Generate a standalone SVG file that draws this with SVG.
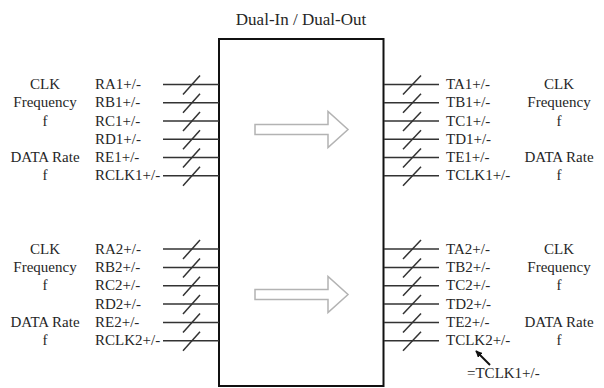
<svg xmlns="http://www.w3.org/2000/svg" width="604" height="388" viewBox="0 0 604 388">
<defs>
<style>
text{font-family:"Liberation Serif","Times New Roman",serif;font-size:15px;fill:#262626}
.mid{text-anchor:middle}
.bus{stroke:#333;stroke-width:1.5;fill:none}
.box{stroke:#111;stroke-width:2;fill:#fff}
.hollow{stroke:#b3b3b3;stroke-width:1.5;fill:#fff}
</style>
<marker id="ah" viewBox="0 0 10 10" refX="9" refY="5" markerWidth="7" markerHeight="7" orient="auto" markerUnits="userSpaceOnUse">
<path d="M0,0 L10,5 L0,10 z" fill="#111"/>
</marker>
<g id="lbus"><line x1="163" y1="0" x2="219" y2="0"/><line x1="183" y1="10" x2="200" y2="-9"/></g>
<g id="rbus"><line x1="384" y1="0" x2="439" y2="0"/><line x1="403" y1="10" x2="421" y2="-9"/></g>
</defs>
<rect width="604" height="388" fill="#fff"/>

<g id="title"><text x="301" y="25" class="mid" style="font-size:17px">Dual-In / Dual-Out</text></g>

<g id="block">
<rect class="box" x="219" y="39" width="164.5" height="347"/>
<polygon class="hollow" points="255,124.5 328,124.5 328,111.5 348,129.5 328,147.5 328,134.5 255,134.5"/>
<polygon class="hollow" points="255,289.5 328,289.5 328,276.5 348,294.5 328,312.5 328,299.5 255,299.5"/>
</g>

<g id="connectors" class="bus">
<use href="#lbus" y="84.5"/><use href="#lbus" y="102.7"/><use href="#lbus" y="121"/><use href="#lbus" y="139.2"/><use href="#lbus" y="157.5"/><use href="#lbus" y="175.7"/>
<use href="#lbus" y="249"/><use href="#lbus" y="267.4"/><use href="#lbus" y="285.7"/><use href="#lbus" y="304"/><use href="#lbus" y="322.4"/><use href="#lbus" y="340.7"/>
<use href="#rbus" y="84.5"/><use href="#rbus" y="102.7"/><use href="#rbus" y="121"/><use href="#rbus" y="139.2"/><use href="#rbus" y="157.5"/><use href="#rbus" y="175.7"/>
<use href="#rbus" y="249"/><use href="#rbus" y="267.4"/><use href="#rbus" y="285.7"/><use href="#rbus" y="304"/><use href="#rbus" y="322.4"/><use href="#rbus" y="340.7"/>
<line x1="490" y1="365" x2="476" y2="351" stroke="#111" stroke-width="2" marker-end="url(#ah)"/>
</g>

<g id="in1">
<text x="95" y="89">RA1+/-</text><text x="95" y="107.2">RB1+/-</text><text x="95" y="125.5">RC1+/-</text><text x="95" y="143.7">RD1+/-</text><text x="95" y="162">RE1+/-</text><text x="95" y="180.2">RCLK1+/-</text>
<text x="45" y="89" class="mid">CLK</text><text x="45" y="107.2" class="mid">Frequency</text><text x="45" y="125.5" class="mid">f</text><text x="45" y="162" class="mid">DATA Rate</text><text x="45" y="180.2" class="mid">f</text>
</g>
<g id="in2">
<text x="95" y="253.5">RA2+/-</text><text x="95" y="271.9">RB2+/-</text><text x="95" y="290.2">RC2+/-</text><text x="95" y="308.5">RD2+/-</text><text x="95" y="326.9">RE2+/-</text><text x="95" y="345.2">RCLK2+/-</text>
<text x="45" y="253.5" class="mid">CLK</text><text x="45" y="271.9" class="mid">Frequency</text><text x="45" y="290.2" class="mid">f</text><text x="45" y="326.9" class="mid">DATA Rate</text><text x="45" y="345.2" class="mid">f</text>
</g>
<g id="out1">
<text x="446" y="89">TA1+/-</text><text x="446" y="107.2">TB1+/-</text><text x="446" y="125.5">TC1+/-</text><text x="446" y="143.7">TD1+/-</text><text x="446" y="162">TE1+/-</text><text x="446" y="180.2">TCLK1+/-</text>
<text x="559" y="89" class="mid">CLK</text><text x="559" y="107.2" class="mid">Frequency</text><text x="559" y="125.5" class="mid">f</text><text x="559" y="162" class="mid">DATA Rate</text><text x="559" y="180.2" class="mid">f</text>
</g>
<g id="out2">
<text x="446" y="253.5">TA2+/-</text><text x="446" y="271.9">TB2+/-</text><text x="446" y="290.2">TC2+/-</text><text x="446" y="308.5">TD2+/-</text><text x="446" y="326.9">TE2+/-</text><text x="446" y="345.2">TCLK2+/-</text>
<text x="559" y="253.5" class="mid">CLK</text><text x="559" y="271.9" class="mid">Frequency</text><text x="559" y="290.2" class="mid">f</text><text x="559" y="326.9" class="mid">DATA Rate</text><text x="559" y="345.2" class="mid">f</text>
</g>
<g id="note"><text x="467" y="378">=TCLK1+/-</text></g>
</svg>
